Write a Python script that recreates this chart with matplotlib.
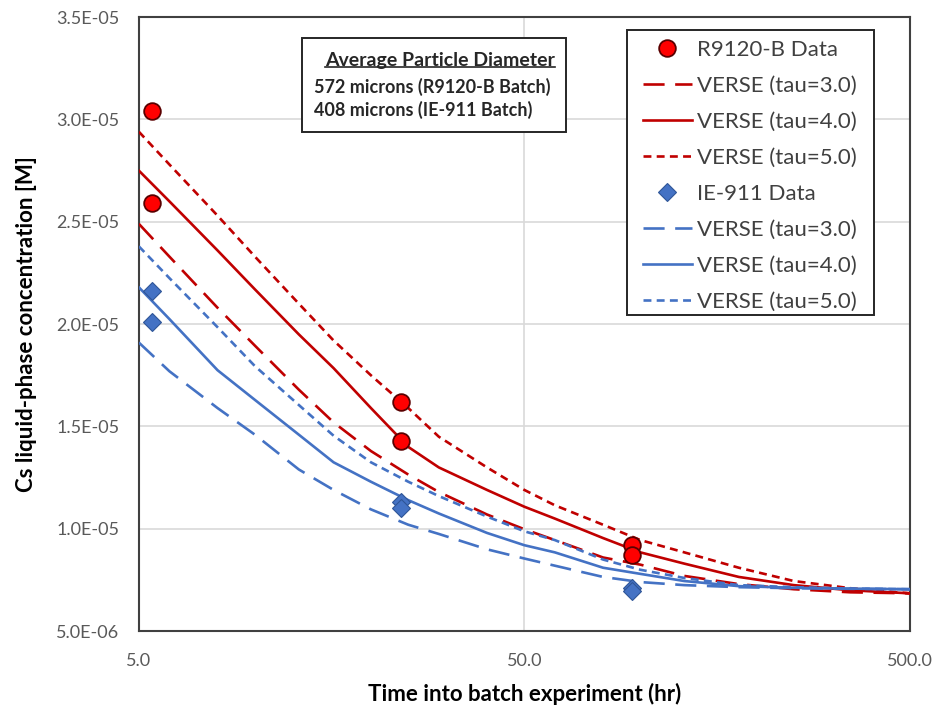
import matplotlib
matplotlib.use("Agg")
import matplotlib.pyplot as plt
from matplotlib.lines import Line2D
import numpy as np

plt.rcParams['font.family'] = ['Lato', 'DejaVu Sans']

# ---- data (concentration in M, time in hr) ----
r_data_t = [5.4, 5.4, 24.0, 24.0, 95.0, 95.0]
r_data_c = [3.04e-5, 2.59e-5, 1.62e-5, 1.43e-5, 9.2e-6, 8.7e-6]
b_data_t = [5.4, 5.4, 24.0, 24.0, 95.0, 95.0]
b_data_c = [2.16e-5, 2.01e-5, 1.13e-5, 1.10e-5, 7.1e-6, 6.95e-6]

# model curves (values in 1e-6 M)
t_model = [5, 6, 8, 10, 13, 16, 20, 25, 30, 40, 50, 60, 80, 100, 130, 180, 250, 350, 500]
r_tau3 = [24.9, 23.3, 20.8, 18.95, 16.8, 15.2, 13.8, 12.65, 11.8, 10.7, 9.98, 9.45, 8.6, 8.25, 7.7, 7.3, 7.05, 6.9, 6.85]
r_tau4 = [27.5, 26.0, 23.6, 21.7, 19.5, 17.85, 15.9, 14.0, 13.0, 11.9, 11.08, 10.5, 9.55, 8.85, 8.3, 7.65, 7.25, 7.0, 6.85]
r_tau5 = [29.4, 27.8, 25.3, 23.3, 21.0, 19.2, 17.5, 15.9, 14.5, 13.0, 11.9, 11.15, 10.2, 9.45, 8.85, 8.1, 7.45, 7.1, 6.85]
b_tau3 = [19.1, 17.7, 15.9, 14.6, 12.9, 11.9, 10.95, 10.2, 9.75, 9.0, 8.55, 8.2, 7.65, 7.4, 7.25, 7.15, 7.1, 7.07, 7.05]
b_tau4 = [21.8, 20.25, 17.75, 16.3, 14.6, 13.25, 12.3, 11.4, 10.75, 9.8, 9.2, 8.85, 8.1, 7.8, 7.45, 7.2, 7.12, 7.08, 7.05]
b_tau5 = [23.8, 22.25, 19.85, 17.95, 16.05, 14.55, 13.25, 12.3, 11.6, 10.6, 9.88, 9.45, 8.5, 8.0, 7.6, 7.25, 7.15, 7.08, 7.05]

xticks = [5.0, 50.0, 500.0]
xticklabels = ["5.0", "50.0", "500.0"]
yticks = [5e-6, 1e-5, 1.5e-5, 2e-5, 2.5e-5, 3e-5, 3.5e-5]
yticklabels = ["5.0E-06", "1.0E-05", "1.5E-05", "2.0E-05", "2.5E-05", "3.0E-05", "3.5E-05"]

RED = "#C00000"
BLUE = "#4472C4"
long_dash = (0, (8, 4))
short_dash = (0, (3, 2))

fig = plt.figure(figsize=(9.38, 7.10), dpi=100)
ax = fig.add_axes([0.148, 0.111, 0.822, 0.865])

def scale(v):
    return [x * 1e-6 for x in v]

lw = 1.9
ax.plot(t_model, scale(r_tau3), color=RED, lw=lw, ls=long_dash, label="VERSE (tau=3.0)", zorder=3)
ax.plot(t_model, scale(r_tau4), color=RED, lw=lw, ls='-', label="VERSE (tau=4.0)", zorder=3)
ax.plot(t_model, scale(r_tau5), color=RED, lw=lw, ls=short_dash, label="VERSE (tau=5.0)", zorder=3)
ax.plot(t_model, scale(b_tau3), color=BLUE, lw=lw, ls=long_dash, label="VERSE (tau=3.0)", zorder=3)
ax.plot(t_model, scale(b_tau4), color=BLUE, lw=lw, ls='-', label="VERSE (tau=4.0)", zorder=3)
ax.plot(t_model, scale(b_tau5), color=BLUE, lw=lw, ls=short_dash, label="VERSE (tau=5.0)", zorder=3)

ax.plot(r_data_t, r_data_c, ls='none', marker='o', ms=12, mfc='#FF0000', mec='#5a0000', mew=1.3,
        label="R9120-B Data", zorder=5)
ax.plot(b_data_t, b_data_c, ls='none', marker='D', ms=9, mfc=BLUE, mec='#2f5597', mew=0.8,
        label="IE-911 Data", zorder=5)

ax.set_xscale('log')
ax.set_xlim(5, 500)
ax.set_ylim(5e-6, 3.5e-5)
ax.set_xticks(xticks)
ax.set_xticklabels(xticklabels)
ax.xaxis.set_minor_locator(matplotlib.ticker.NullLocator())
ax.set_yticks(yticks)
ax.set_yticklabels(yticklabels)
ax.tick_params(axis='both', length=0, colors='#595959', labelsize=13)
ax.tick_params(axis='x', pad=16)
ax.tick_params(axis='y', pad=14)
ax.grid(True, color='#d9d9d9', lw=1.2)
ax.set_axisbelow(True)
for s in ax.spines.values():
    s.set_color('#404040')
    s.set_linewidth(1.5)

ax.set_xlabel("Time into batch experiment (hr)", fontsize=16, fontweight='bold', labelpad=10)
ax.set_ylabel("Cs liquid-phase concentration [M]", fontsize=16, fontweight='bold', labelpad=14)

# Legend (frame drawn separately)
handles, labels = ax.get_legend_handles_labels()
order = [6, 0, 1, 2, 7, 3, 4, 5]
leg = ax.legend([handles[i] for i in order], [labels[i] for i in order],
                loc='upper left', bbox_to_anchor=(0.6537, 0.9625), fontsize=16,
                frameon=False, borderpad=0, borderaxespad=0,
                handlelength=2.2, handletextpad=0.25, labelspacing=0.72)
leg.set_zorder(8)
for t in leg.get_texts():
    t.set_color('#404040')
ax.add_patch(plt.Rectangle((0.633, 0.5155), 0.3204, 0.4635, transform=ax.transAxes, fill=True,
                           facecolor='white', edgecolor='#262626', lw=1.4, zorder=6))

# Annotation box
ax.add_patch(plt.Rectangle((0.2114, 0.8127), 0.3424, 0.1531, transform=ax.transAxes, fill=True,
                           facecolor='white', edgecolor='#262626', lw=1.4, zorder=6))
title = ax.text(0.3905, 0.930, "Average Particle Diameter", transform=ax.transAxes, ha='center',
                va='center', fontsize=14, fontweight='bold', color='#262626', zorder=7)
ax.text(0.227, 0.886, "572 microns (R9120-B Batch)", transform=ax.transAxes, ha='left',
        va='center', fontsize=13, fontweight='bold', color='#262626', zorder=7)
ax.text(0.227, 0.8485, "408 microns (IE-911 Batch)", transform=ax.transAxes, ha='left',
        va='center', fontsize=13, fontweight='bold', color='#262626', zorder=7)

fig.canvas.draw()
bb = title.get_window_extent(fig.canvas.get_renderer())
inv = ax.transAxes.inverted()
(x0, y0), (x1, y1) = inv.transform([(bb.x0, bb.y0), (bb.x1, bb.y0)])
ax.add_line(Line2D([x0, x1], [y0 + 0.003, y1 + 0.003], transform=ax.transAxes, color='#262626',
                   lw=1.2, zorder=7))

fig.savefig("out.png", dpi=100)
